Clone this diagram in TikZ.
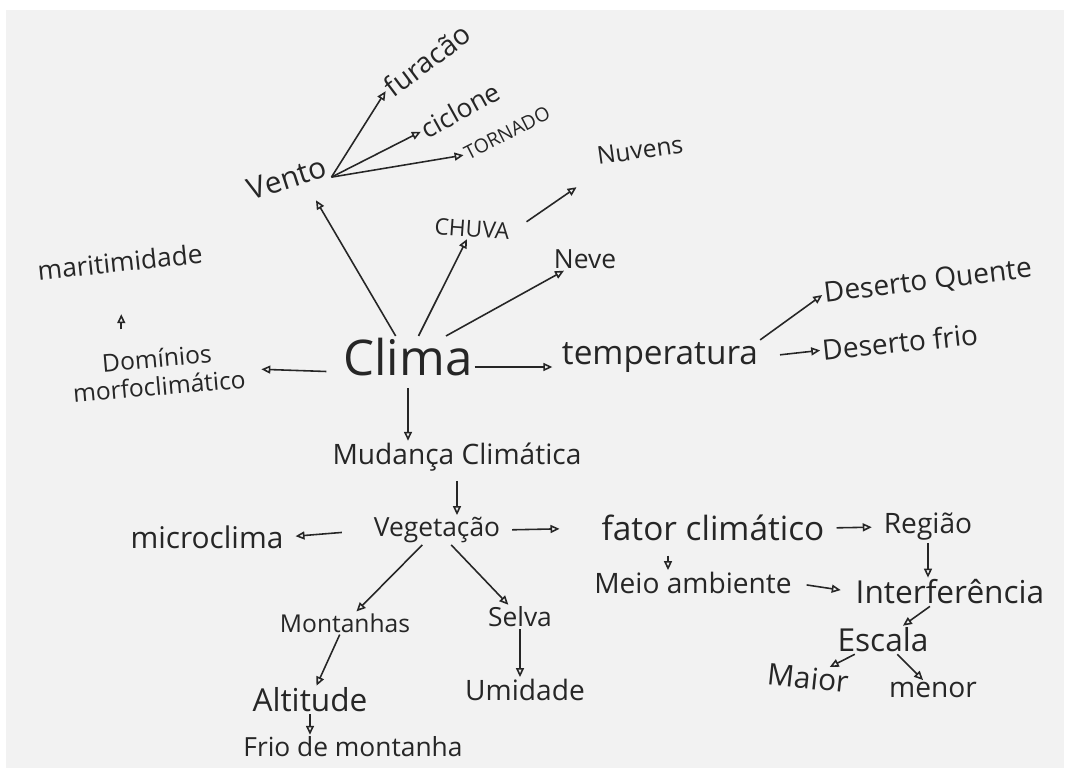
\documentclass[tikz,border=0pt]{standalone}
\usepackage{fontspec}
\setmainfont{Open Sans}
\usetikzlibrary{arrows.meta}
\definecolor{mapink}{HTML}{262626}
\definecolor{mappaper}{HTML}{F2F2F2}
\tikzset{
  wd/.style={font=\fontsize{#1}{#1}\selectfont, text=mapink, inner sep=1pt},
  wd/.default=16,
  arr/.style={-{Triangle[open, length=1.8mm, width=1.6mm]}, line width=0.9pt, color=mapink},
}
\begin{document}
\begin{tikzpicture}[x=0.02cm, y=-0.02cm]
  \fill[white] (0,0) rectangle (1069,772);
  \fill[mappaper] (6,10) rectangle (1064,768);
  % centro e ramos de cima
  \node[wd=28] (clima) at (408,357) {Clima};
  \node[wd=17, rotate=18] (vento) at (287,178) {Vento};
  \node[wd=16, rotate=37] (fura) at (427,60) {furacão};
  \node[wd=15, rotate=29] (cicl) at (460,110) {ciclone};
  \node[wd=11, rotate=27] (torn) at (507,133) {TORNADO};
  \node[wd=13, rotate=-4] (chuva) at (472,229) {CHUVA};
  \node[wd=14, rotate=8] (nuvens) at (640,150) {Nuvens};
  \node[wd=15] (neve) at (585,259) {Neve};
  \node[wd=15, rotate=6] (mari) at (120,262) {maritimidade};
  \node[wd=14, rotate=5, align=center, font=\fontsize{14}{16}\selectfont] (domi) at (158,372) {Domínios\\morfoclimático};
  \node[wd=19] (temp) at (660,357) {temperatura};
  \node[wd=16, rotate=7] (dq) at (928,282) {Deserto Quente};
  \node[wd=16, rotate=6] (df) at (900,342) {Deserto frio};
  % ramos de baixo
  \node[wd=16] (mud) at (457,457) {Mudança Climática};
  \node[wd=15] (veg) at (437,530) {Vegetação};
  \node[wd=17] (micro) at (207,537) {microclima};
  \node[wd=19] (fator) at (713,528) {fator climático};
  \node[wd=16] (regiao) at (928,527) {Região};
  \node[wd=16] (meio) at (693,583) {Meio ambiente};
  \node[wd=18] (inter) at (950,592) {Interferência};
  \node[wd=18] (escala) at (883,640) {Escala};
  \node[wd=17, rotate=-6] (maior) at (808,678) {Maior};
  \node[wd=16] (menor) at (933,690) {menor};
  \node[wd=14] (mont) at (345,623) {Montanhas};
  \node[wd=15] (selva) at (520,617) {Selva};
  \node[wd=18] (alt) at (310,700) {Altitude};
  \node[wd=16] (umid) at (525,690) {Umidade};
  \node[wd=15] (frio) at (353,747) {Frio de montanha};
  \coordinate (fm) at ([xshift=-0.9cm]fator.south);

  \draw[arr] (clima) -- ([xshift=0.5cm, yshift=-0.2cm]vento.south);
  \draw[arr] (vento.south east) -- (fura.west); \draw[arr] (vento.south east) -- (cicl.west); \draw[arr] (vento.south east) -- (torn.west);
  \draw[arr] (clima) -- (chuva); \draw[arr] (clima) -- (neve);
  \draw[arr] ([xshift=0.3cm, yshift=0.2cm]chuva.east) -- ([xshift=-0.4cm, yshift=-0.4cm]nuvens.south west);
  \draw[arr, shorten <=0.34cm, shorten >=0.8cm] (domi.north -| mari.south) -- (mari.south);
  \draw[arr, shorten <=0.3cm] ([yshift=-0.3cm]clima.west) -- ([xshift=0.3cm, yshift=-0.1cm]domi.east);
  \draw[arr, shorten >=0.15cm] ([yshift=-0.2cm]clima.east) -- ([yshift=-0.2cm]temp.west);
  \draw[arr] (temp.north east) -- (dq.west);
  \draw[arr, shorten <=0.4cm] (temp.east) -- (df.west);
  \draw[arr, shorten <=0.2cm] (clima.south) -- (clima.south |- mud.north);
  \draw[arr, shorten <=0.15cm] (mud.south) -- (mud.south |- veg.north);
  \draw[arr, shorten <=0.6cm, shorten >=0.2cm] (veg.west) -- (micro.east);
  \draw[arr, shorten <=0.2cm, shorten >=0.8cm] (veg.east) -- (fator.west);
  \draw[arr, shorten <=0.2cm, shorten >=0.2cm] (fator.east) -- (regiao.west);
  \draw[arr, shorten <=0.25cm] (fm) -- (fm |- meio.north);
  \draw[arr] (regiao.south) -- (regiao.south |- inter.north);
  \draw[arr, shorten <=0.26cm, shorten >=0.26cm] (meio.east) -- (inter.west);
  \draw[arr] (inter) -- (escala); \draw[arr] (escala) -- (maior); \draw[arr] (escala) -- (menor);
  \draw[arr] (veg) -- (mont); \draw[arr] (veg) -- (selva); \draw[arr] (mont) -- (alt);
  \draw[arr] (selva.south) -- (selva.south |- umid.north);
  \draw[arr] (alt.south) -- (alt.south |- frio.north);
\end{tikzpicture}
\end{document}
